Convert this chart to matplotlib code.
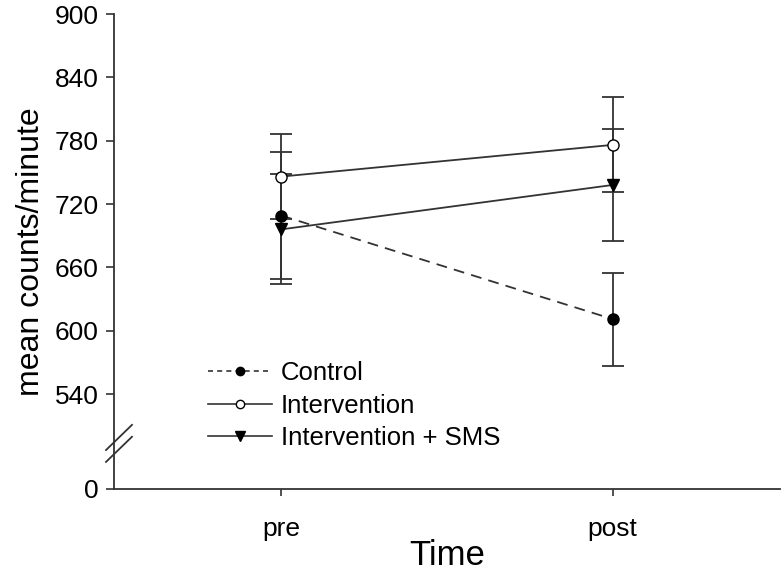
import numpy as np
import matplotlib
matplotlib.use("Agg")
import matplotlib.pyplot as plt
from matplotlib.lines import Line2D

plt.rcParams['font.family'] = ['Liberation Sans', 'DejaVu Sans']

# data
times = ['pre', 'post']
control = [709, 611]
control_err = [60, 44]
intervention = [746, 776]
intervention_err = [40, 45]
sms = [696, 738]
sms_err = [52, 53]
yticks = [0, 540, 600, 660, 720, 780, 840, 900]


# broken y axis: 0 is squeezed in just below the linear part
def fwd(v):
    v = np.asarray(v, dtype=float)
    return np.where(v >= 480, v, 450 + v * 30.0 / 480)


def inv(u):
    u = np.asarray(u, dtype=float)
    return np.where(u >= 480, u, (u - 450) * 480 / 30.0)


fig = plt.figure(figsize=(7.84, 5.75), dpi=100)
ax = fig.add_axes([114 / 784, 86 / 575, 666 / 784, 475 / 575])
ax.set_yscale('function', functions=(fwd, inv))

x = np.arange(len(times))
lc = '#333333'
ax.errorbar(x, control, yerr=control_err, fmt='o', ls=(0, (6, 4)), color=lc,
            mfc='black', mec='black', ms=8, lw=1.3, capsize=8, capthick=1.3)
ax.errorbar(x, intervention, yerr=intervention_err, fmt='o', ls='-', color=lc,
            mfc='white', mec='black', ms=8, lw=1.3, capsize=8, capthick=1.3)
ax.errorbar(x, sms, yerr=sms_err, fmt='v', ls='-', color=lc,
            mfc='black', mec='black', ms=9, lw=1.3, capsize=8, capthick=1.3)

ax.set_xlim(-0.506, 1.506)
ax.set_ylim(0, 900)
ax.set_yticks(yticks)
ax.set_yticklabels([str(t) for t in yticks])
ax.set_xticks(x)
ax.set_xticklabels(times)
ax.tick_params(axis='both', labelsize=19, color=lc, width=1.2)
ax.tick_params(axis='y', length=6, pad=5)
ax.tick_params(axis='x', length=5, pad=15)
ax.minorticks_off()

for s in ['top', 'right']:
    ax.spines[s].set_visible(False)
for s in ['left', 'bottom']:
    ax.spines[s].set_color(lc)
    ax.spines[s].set_linewidth(1.3)

# break marks on the y axis
for dy in (0.0, -0.025):
    ax.plot([-0.012, 0.027], [0.082 + dy, 0.135 + dy], transform=ax.transAxes,
            color=lc, lw=1.3, clip_on=False)

ax.set_xlabel('Time', fontsize=25, labelpad=-1)
ax.set_ylabel('mean counts/minute', fontsize=23, labelpad=6)

# legend without the error bars
handles = [
    Line2D([], [], color=lc, ls=(0, (3, 2.5)), lw=1.2, marker='o', ms=6,
           mfc='black', mec='black'),
    Line2D([], [], color=lc, ls='-', lw=1.2, marker='o', ms=6,
           mfc='white', mec='black'),
    Line2D([], [], color=lc, ls='-', lw=1.2, marker='v', ms=7,
           mfc='black', mec='black'),
]
labels = ['Control', 'Intervention', 'Intervention + SMS']
ax.legend(handles, labels, loc='lower left', bbox_to_anchor=(0.125, 0.06),
          frameon=False, fontsize=18.5, handlelength=2.5, labelspacing=0.33,
          handletextpad=0.35, borderaxespad=0)

fig.savefig('out.png', dpi=100)
